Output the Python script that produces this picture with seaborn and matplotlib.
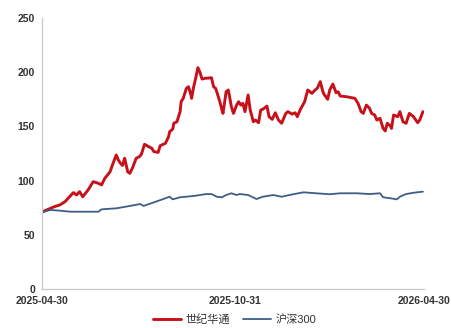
import matplotlib
matplotlib.use("Agg")
import matplotlib.pyplot as plt
import seaborn as sns
import pandas as pd
from matplotlib.lines import Line2D

# ---- data ----
red_dates = ["2025-04-30","2025-05-08","2025-05-12","2025-05-17","2025-05-22","2025-05-27","2025-05-30",
             "2025-06-02","2025-06-05","2025-06-08","2025-06-13","2025-06-18","2025-06-23","2025-06-26",
             "2025-06-29","2025-07-04","2025-07-07","2025-07-10","2025-07-12","2025-07-14","2025-07-16",
             "2025-07-18","2025-07-21","2025-07-23","2025-07-26","2025-07-29","2025-08-01","2025-08-03",
             "2025-08-06","2025-08-10","2025-08-13","2025-08-15","2025-08-19","2025-08-21","2025-08-26",
             "2025-08-29","2025-08-30","2025-09-02","2025-09-03","2025-09-06","2025-09-09","2025-09-10",
             "2025-09-12","2025-09-15","2025-09-17","2025-09-19","2025-09-20","2025-09-22","2025-09-24",
             "2025-09-26","2025-09-28","2025-09-30","2025-10-03","2025-10-09","2025-10-11","2025-10-13",
             "2025-10-15","2025-10-17","2025-10-19","2025-10-20","2025-10-23","2025-10-25","2025-10-26",
             "2025-10-28","2025-10-30","2025-11-02","2025-11-04","2025-11-06","2025-11-08","2025-11-10",
             "2025-11-13","2025-11-15","2025-11-18","2025-11-20","2025-11-23","2025-11-25","2025-11-27",
             "2025-12-01","2025-12-03","2025-12-06","2025-12-09","2025-12-12","2025-12-15","2025-12-19",
             "2025-12-21","2025-12-25","2025-12-28","2025-12-30","2026-01-02","2026-01-06","2026-01-09",
             "2026-01-11","2026-01-13","2026-01-16","2026-01-18","2026-01-21","2026-01-23","2026-01-24",
             "2026-01-28","2026-01-30","2026-02-02","2026-02-05","2026-02-07","2026-02-09","2026-02-15",
             "2026-02-23","2026-02-26","2026-03-01","2026-03-03","2026-03-06","2026-03-09","2026-03-11",
             "2026-03-14","2026-03-16","2026-03-19","2026-03-22","2026-03-24","2026-03-26","2026-03-29",
             "2026-03-30","2026-04-01","2026-04-05","2026-04-07","2026-04-10","2026-04-13","2026-04-16",
             "2026-04-20","2026-04-24","2026-04-26","2026-04-29"]
red_values = [71, 74.4, 76, 77.5, 80.5, 85.8, 88.9,
              86.7, 89.8, 85.1, 91.3, 99, 97.5, 96,
              102, 108, 116, 123.6, 119, 116, 114,
              120.6, 108, 106.7, 112.8, 120.6, 122, 124.2,
              133.5, 131.3, 129.8, 126.7, 126, 132.2, 134.4,
              140.5, 145.1, 147.6, 152.9, 154.3, 163.6, 172.8,
              175.9, 185.1, 186.6, 180.5, 175.9, 186.6, 194.9,
              204.2, 199.9, 193.7, 194.4, 194.9, 186.6, 185.1,
              179, 172.8, 165.1, 162, 182, 183.6, 179,
              168.2, 162, 169.7, 172.8, 169.7, 171.3, 163.6,
              179, 165.1, 154.3, 155.9, 153.4, 165.1, 165.8,
              168.8, 159, 156.5, 162.6, 155.9, 152.9, 162,
              163.6, 161.4, 162.6, 159, 165.8, 172.8, 183.6,
              182, 180.5, 183.6, 185.1, 191.3, 183.6, 180.5,
              175, 183.6, 189.1, 181.1, 182, 178, 177.4,
              175.9, 171.3, 163.6, 162, 169.7, 166.7, 162,
              160.5, 155.9, 157.5, 148.2, 145.8, 152.9, 150.4,
              148.2, 160.5, 159, 163.6, 154.3, 152.9, 162,
              159, 153.4, 155.9, 163.6]

blue_dates = ["2025-04-30","2025-05-08","2025-05-17","2025-05-27","2025-06-08","2025-06-23","2025-06-26",
              "2025-07-10","2025-07-23","2025-08-02","2025-08-05","2025-08-14","2025-08-26","2025-08-30",
              "2025-09-02","2025-09-09","2025-09-22","2025-10-04","2025-10-09","2025-10-14","2025-10-19",
              "2025-10-23","2025-10-28","2025-11-02","2025-11-05","2025-11-13","2025-11-21","2025-11-27",
              "2025-12-07","2025-12-15","2025-12-26","2026-01-05","2026-01-17","2026-01-30","2026-02-09",
              "2026-02-25","2026-03-09","2026-03-19","2026-03-22","2026-03-29","2026-04-04","2026-04-07",
              "2026-04-13","2026-04-21","2026-04-29"]
blue_values = [70.8, 72.9, 72.3, 71.3, 71.3, 71.3, 73.5,
               74.4, 76.6, 78.4, 76.6, 79.6, 83.7, 85.1,
               82.7, 84.6, 85.8, 87.6, 87.6, 85.1, 84.6,
               86.7, 88.3, 86.7, 87.6, 86.7, 83, 85.1,
               86.7, 85.1, 87.4, 89.2, 88.3, 87.4, 88.3,
               88.3, 87.6, 88.3, 84.6, 83.7, 82.7, 85.1,
               87.6, 88.9, 89.8]

series_names = ["世纪华通", "沪深300"]
x_ticks = ["2025-04-30", "2025-10-31", "2026-04-30"]
y_ticks = [0, 50, 100, 150, 200, 250]

# ---- build table ----
df = pd.concat([
    pd.DataFrame({"date": pd.to_datetime(red_dates), "value": red_values, "series": series_names[0]}),
    pd.DataFrame({"date": pd.to_datetime(blue_dates), "value": blue_values, "series": series_names[1]}),
], ignore_index=True)

sns.set_style("white")
plt.rcParams["font.family"] = ["Liberation Sans", "Noto Sans CJK SC", "DejaVu Sans"]

fig = plt.figure(figsize=(4.51, 3.28), dpi=100)
ax = fig.add_axes([0.093, 0.119, 0.847, 0.826])

palette = {series_names[0]: "#C8101A", series_names[1]: "#3D5E85"}
widths = [2.1, 1.3]
sns.lineplot(data=df, x="date", y="value", hue="series", palette=palette,
             ax=ax, legend=False)
for ln, w in zip(ax.get_lines(), widths):
    ln.set_linewidth(w)

ax.set_xlim(pd.Timestamp(x_ticks[0]), pd.Timestamp(x_ticks[-1]))
ax.set_ylim(0, 250)
ax.set_xticks([pd.Timestamp(t) for t in x_ticks])
ax.set_xticklabels(x_ticks)
ax.set_yticks(y_ticks)
ax.set_xlabel("")
ax.set_ylabel("")

for s in ["top", "right"]:
    ax.spines[s].set_visible(False)
for s in ["left", "bottom"]:
    ax.spines[s].set_color("#C8C8C8")
    ax.spines[s].set_linewidth(0.9)
ax.tick_params(axis="both", direction="out", length=3, width=0.8, color="#C8C8C8",
               labelsize=7.5, labelcolor="#333333", pad=2)
for lbl in ax.get_xticklabels() + ax.get_yticklabels():
    lbl.set_fontweight("bold")

handles = [Line2D([], [], color=palette[n], lw=w) for n, w in zip(series_names, widths)]
leg = fig.legend(handles, series_names, loc="center", bbox_to_anchor=(0.52, 0.025),
                 ncol=2, frameon=False, fontsize=8, handlelength=2.5, columnspacing=1.2,
                 handletextpad=0.4)
for t in leg.get_texts():
    t.set_color("#333333")

fig.savefig("out.png", dpi=100, facecolor="white")
